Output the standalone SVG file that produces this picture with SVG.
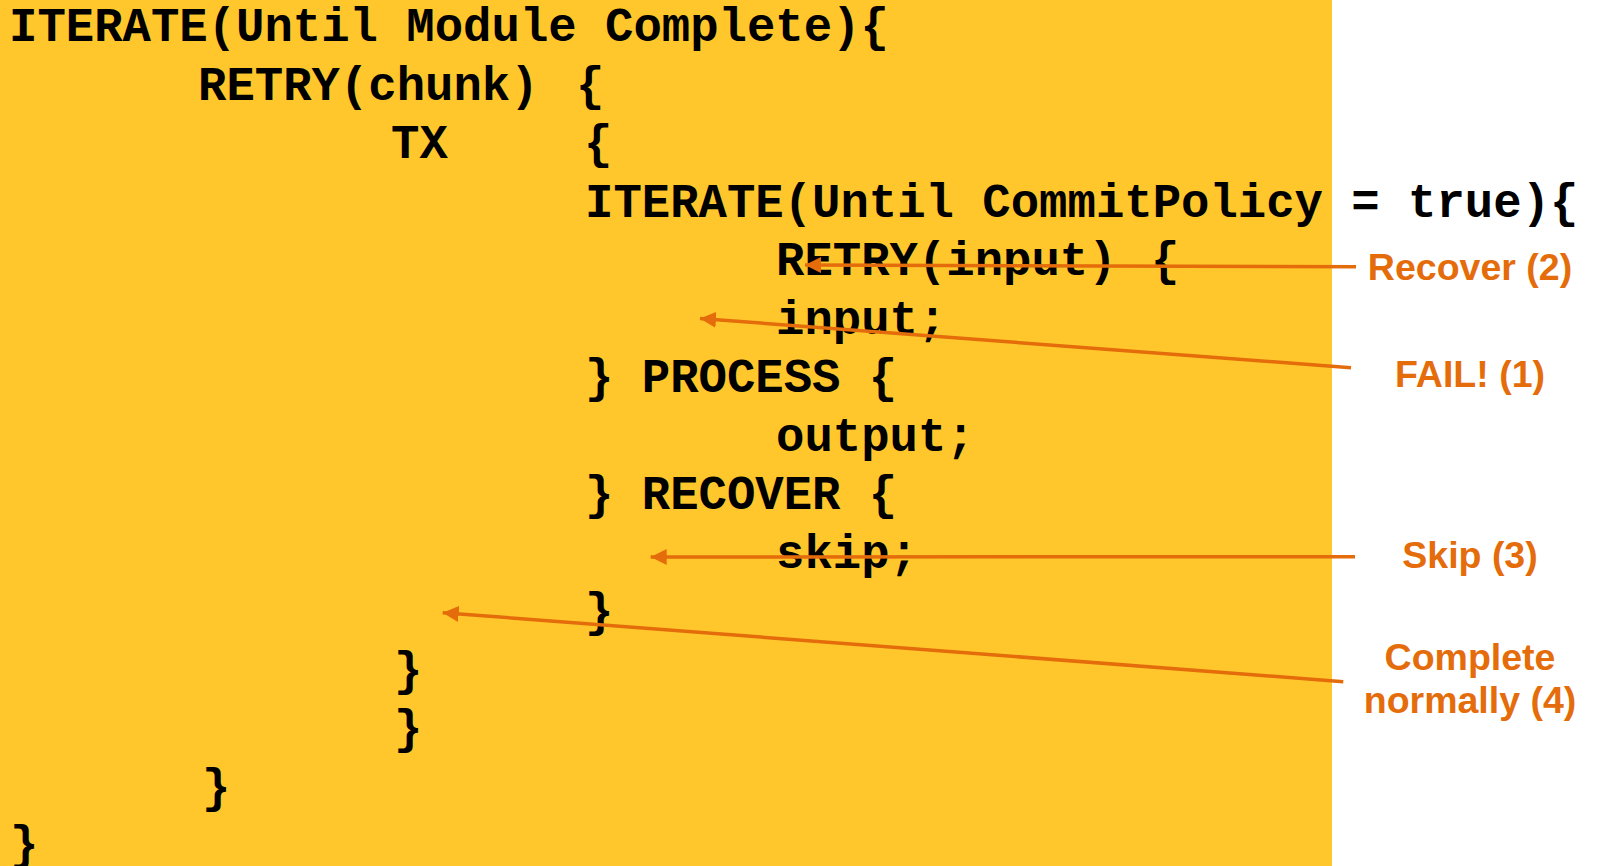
<svg xmlns="http://www.w3.org/2000/svg" width="1601" height="866" viewBox="0 0 1601 866">
<style>
.code{font-family:"Liberation Mono","Courier New",monospace;font-weight:bold;font-size:47.3px;fill:#000;white-space:pre}
.lbl{font-family:"Liberation Sans",Arial,sans-serif;font-weight:bold;font-size:37.5px;fill:#E46C0A;text-anchor:middle}
.conn{stroke:#E46C0A;stroke-width:3.5;fill:none;marker-end:url(#ah)}
</style>
<defs>
<marker id="ah" markerUnits="userSpaceOnUse" markerWidth="18" markerHeight="18" refX="16" refY="8" orient="auto">
<path d="M0,0 L16,8 L0,16 Z" fill="#E46C0A"/>
</marker>
</defs>
<rect x="0" y="0" width="1332" height="866" fill="#FFC72C"/>
<g id="code">
<text class="code" x="9" y="41">ITERATE(Until Module Complete){</text>
<text class="code" x="198" y="99.5">RETRY(chunk)</text>
<text class="code" x="576" y="99.5">{</text>
<text class="code" x="391" y="158">TX</text>
<text class="code" x="584" y="158">{</text>
<text class="code" x="585" y="216.5">ITERATE(Until CommitPolicy = true){</text>
<text class="code" x="776" y="275">RETRY(input)</text>
<text class="code" x="1151" y="275">{</text>
<text class="code" x="776" y="333.5">input;</text>
<text class="code" x="585" y="392">} PROCESS {</text>
<text class="code" x="776" y="450.5">output;</text>
<text class="code" x="585" y="509">} RECOVER {</text>
<text class="code" x="776" y="567.5">skip;</text>
<text class="code" x="585" y="626">}</text>
<text class="code" x="394" y="684.5">}</text>
<text class="code" x="394" y="743">}</text>
<text class="code" x="202" y="801.5">}</text>
<text class="code" x="10" y="859">}</text>
</g>
<g id="connectors">
<path class="conn" d="M1356,266.7 L805,265"/>
<path class="conn" d="M1351,367.7 L700,318.5"/>
<path class="conn" d="M1355,556.7 L650.7,557"/>
<path class="conn" d="M1343.3,681.7 L442.7,612.7"/>
</g>
<g id="label-recover"><text class="lbl" x="1470" y="280">Recover (2)</text></g>
<g id="label-fail"><text class="lbl" x="1470" y="386.7">FAIL! (1)</text></g>
<g id="label-skip"><text class="lbl" x="1470" y="568.3">Skip (3)</text></g>
<g id="label-complete"><text class="lbl" x="1470" y="670">Complete</text><text class="lbl" x="1470" y="713.3">normally (4)</text></g>
</svg>
